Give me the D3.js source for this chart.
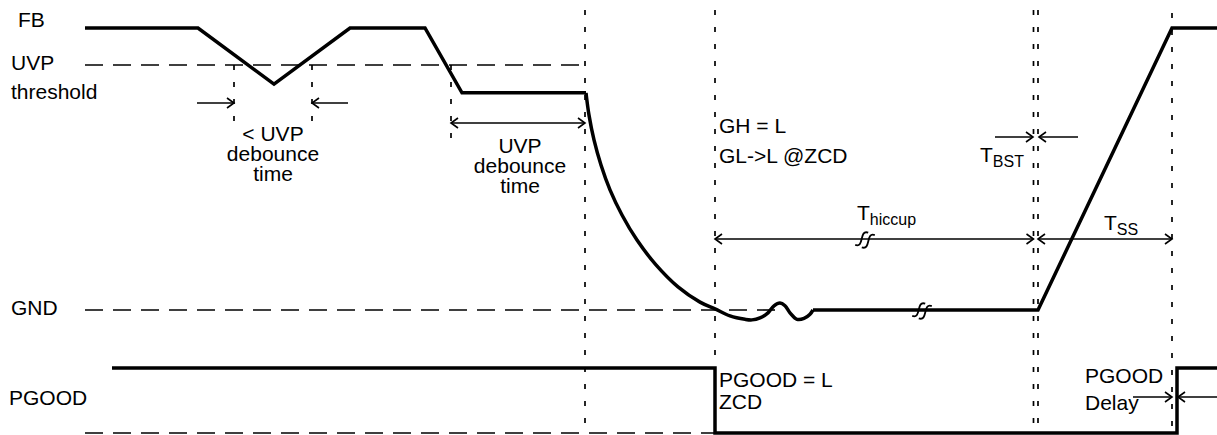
<!DOCTYPE html>
<html><head><meta charset="utf-8">
<script src="https://cdn.jsdelivr.net/npm/d3@7"></script>
<style>html,body{margin:0;padding:0;background:#fff;}svg{display:block;}text{font-family:"Liberation Sans",Arial,sans-serif;fill:#000;}</style>
</head><body>
<svg id="c" width="1217" height="435"></svg>
<script>
// ---- data (time in px-units, levels normalised: FB 1 = high, 0 = GND) ----
const fbTime  = [85, 198, 274, 350, 425, 462, 586];
const fbLevel = [1, 1, 0.801, 1, 1, 0.770, 0.770];
const dropTime  = [586, 589, 594, 601, 610, 622, 637, 656, 678, 700, 715, 730, 745, 752, 760, 768, 774, 780, 785, 790, 797, 804, 810, 813];
const dropLevel = [0.770, 0.691, 0.603, 0.514, 0.426, 0.337, 0.248, 0.160, 0.082, 0.028, 0.004, -0.021, -0.033, -0.035, -0.028, -0.01, 0.015, 0.025, 0.015, -0.01, -0.033, -0.03, -0.015, 0];
const restartTime  = [813, 1038, 1172, 1217];
const restartLevel = [0, 0, 1, 1];
const pgTime  = [112, 715, 715, 1177, 1177, 1217];
const pgLevel = [1, 1, 0, 0, 1, 1];
const uvpLevel = 0.869;
const markerTimes = [585, 715, 1033.5, 1038, 1172];
const leftLabels = ["FB", "UVP", "threshold", "GND", "PGOOD"];
const shortDebounce = ["< UVP", "debounce", "time"];
const fullDebounce = ["UVP", "debounce", "time"];
const hiccupNote = ["GH = L", "GL->L @ZCD"];
const pgLowNote = ["PGOOD = L", "ZCD"];
const pgDelayNote = ["PGOOD", "Delay"];

const svg = d3.select("#c");
const x = d3.scaleLinear().domain([0, 1217]).range([0, 1217]);
const yFB = d3.scaleLinear().domain([0, 1]).range([310, 28]);
const yPG = d3.scaleLinear().domain([0, 1]).range([433, 368]);

const zip = (a, b) => a.map((t, i) => [t, b[i]]);
const lineFB = d3.line().x(d => x(d[0])).y(d => yFB(d[1]));
const curveFB = d3.line().x(d => x(d[0])).y(d => yFB(d[1])).curve(d3.curveCatmullRom.alpha(0.5));
const linePG = d3.line().x(d => x(d[0])).y(d => yPG(d[1]));

// reference dashed lines
const hdash = "18,10", vdash = "5,12";
function hline(x1, x2, y) {
  svg.append("line").attr("x1", x1).attr("x2", x2).attr("y1", y).attr("y2", y)
    .attr("stroke", "#000").attr("stroke-width", 1.6).attr("stroke-dasharray", hdash);
}
function vline(xx, y1, y2) {
  svg.append("line").attr("x1", xx).attr("x2", xx).attr("y1", y1).attr("y2", y2)
    .attr("stroke", "#000").attr("stroke-width", 1.7).attr("stroke-dasharray", vdash);
}
hline(x(85), x(585), yFB(uvpLevel));
hline(x(85), x(780), yFB(0));
hline(x(85), x(715), yPG(0));

vline(x(markerTimes[0]), 10, 435);
vline(x(markerTimes[1]), 10, 435);
vline(x(markerTimes[2]), 10, 435);
vline(x(markerTimes[3]), 10, 435);
vline(x(markerTimes[4]), 13, 428);
vline(x(234), yFB(uvpLevel), 122);
vline(x(312), yFB(uvpLevel), 122);
vline(x(451), yFB(uvpLevel), 138);

// signals
svg.append("path").attr("d", lineFB(zip(fbTime, fbLevel)))
  .attr("fill", "none").attr("stroke", "#000").attr("stroke-width", 3.5).attr("stroke-linejoin", "miter");
svg.append("path").attr("d", curveFB(zip(dropTime, dropLevel)))
  .attr("fill", "none").attr("stroke", "#000").attr("stroke-width", 3.5);
svg.append("path").attr("d", lineFB(zip(restartTime, restartLevel)))
  .attr("fill", "none").attr("stroke", "#000").attr("stroke-width", 3.5);
svg.append("path").attr("d", linePG(zip(pgTime, pgLevel)))
  .attr("fill", "none").attr("stroke", "#000").attr("stroke-width", 3.5);

// arrows
function head(xx, y, dir) {
  svg.append("path").attr("d", `M${xx - dir * 7},${y - 5} L${xx},${y} L${xx - dir * 7},${y + 5}`)
    .attr("fill", "none").attr("stroke", "#000").attr("stroke-width", 1.6);
}
function arrow(x1, x2, y, h1, h2) {
  svg.append("line").attr("x1", x1).attr("x2", x2).attr("y1", y).attr("y2", y)
    .attr("stroke", "#000").attr("stroke-width", 1.6);
  if (h1) head(x1, y, x1 < x2 ? -1 : 1);
  if (h2) head(x2, y, x2 > x1 ? 1 : -1);
}
arrow(x(197), x(234), 103, false, true);
arrow(x(348), x(312), 103, false, true);
arrow(x(451), x(585), 123, true, true);
arrow(x(715), x(1033.5), 239, true, true);
arrow(x(1038), x(1172), 239, true, true);
arrow(x(995), x(1033), 137, false, true);
arrow(x(1078), x(1039), 137, false, true);
arrow(x(1133), x(1172), 397, false, true);
arrow(x(1217), x(1178), 397, false, true);

// break marks (two S strokes)
function brk(xx, y) {
  const g = svg.append("g").attr("transform", `translate(${xx},${y}) rotate(20)`);
  [-3.5, 3.5].forEach(o => {
    g.append("path").attr("d", `M${o + 4},-8 C${o - 6},-8 ${o + 6},8 ${o - 4},8`)
      .attr("fill", "none").attr("stroke", "#000").attr("stroke-width", 1.8);
  });
}
brk(x(865), 240);
brk(x(922), yFB(0) + 1);

// text
const fs = 21;
function txt(s, xx, y, anchor) {
  return svg.append("text").attr("x", xx).attr("y", y).attr("font-size", fs)
    .attr("text-anchor", anchor || "start").text(s);
}
function block(lines, xx, y, gap, anchor) {
  const t = svg.append("text").attr("x", xx).attr("y", y).attr("font-size", fs)
    .attr("text-anchor", anchor || "start");
  lines.forEach((l, i) => t.append("tspan").attr("x", xx).attr("dy", i ? gap : 0).text(l));
}
txt(leftLabels[0], 18, 27);
txt(leftLabels[1], 11, 70);
txt(leftLabels[2], 11, 99);
txt(leftLabels[3], 11, 315);
txt(leftLabels[4], 9, 405);

block(shortDebounce, x(273), 141, 20, "middle");
block(fullDebounce, x(520), 153, 20, "middle");
block(hiccupNote, x(719), 133, 30);
block(pgLowNote, x(719), 387, 22);
block(pgDelayNote, x(1085), 383, 27);

function sub(main, s, xx, y) {
  const t = svg.append("text").attr("x", xx).attr("y", y).attr("font-size", fs);
  t.append("tspan").text(main);
  t.append("tspan").attr("font-size", 16).attr("dy", 5).text(s);
}
sub("T", "BST", x(980), 162);
sub("T", "hiccup", x(857), 220);
sub("T", "SS", x(1104), 230);
</script>
</body></html>
